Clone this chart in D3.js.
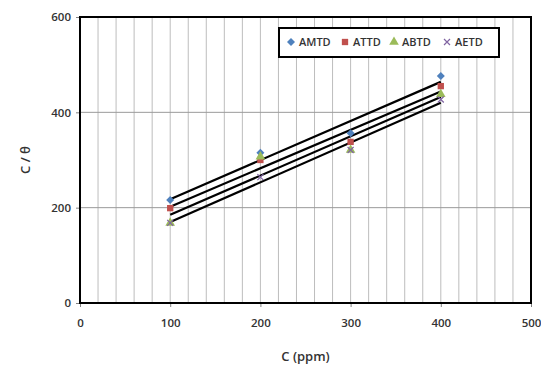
<!DOCTYPE html>
<html>
<head>
<meta charset="utf-8">
<script src="https://cdn.jsdelivr.net/npm/d3@7"></script>
<style>
  body { margin: 0; background: #fff; }
  text { font-family: "Open Sans", "Liberation Sans", sans-serif; font-weight: 600; fill: #333; }
</style>
</head>
<body>
<svg id="chart" width="541" height="372"></svg>
<script>
// concentrations (ppm)
const concentrations = [100, 200, 300, 400];
// C / theta for each inhibitor
const amtd = [216, 315, 356, 476];
const attd = [199, 300, 338, 455];
const abtd = [168, 307, 321, 438];
const aetd = [168, 264, 321, 427];

const seriesNames = ['AMTD', 'ATTD', 'ABTD', 'AETD'];
const seriesColors = ['#4F81BD', '#C0504D', '#9BBB59', '#8064A2'];
const seriesShapes = ['diamond', 'square', 'triangle', 'cross'];
const xTicks = [0, 100, 200, 300, 400, 500];
const yTicks = [0, 200, 400, 600];

const svg = d3.select('#chart');
const plotLeft = 80, plotRight = 531, plotTop = 17, plotBottom = 303;

const x = d3.scaleLinear().domain([0, 500]).range([plotLeft, plotRight]);
const y = d3.scaleLinear().domain([0, 600]).range([plotBottom, plotTop]);

const series = [amtd, attd, abtd, aetd].map((vals, i) => ({
  name: seriesNames[i],
  color: seriesColors[i],
  shape: seriesShapes[i],
  points: vals.map((v, j) => ({ x: concentrations[j], y: v })),
}));

// least squares trend line, like the spreadsheet does
function fit(points) {
  const mx = d3.mean(points, p => p.x);
  const my = d3.mean(points, p => p.y);
  const slope = d3.sum(points, p => (p.x - mx) * (p.y - my)) / d3.sum(points, p => (p.x - mx) ** 2);
  const xs = d3.extent(points, p => p.x);
  return xs.map(v => ({ x: v, y: my + slope * (v - mx) }));
}

// gridlines
svg.append('g')
  .selectAll('line')
  .data(d3.range(20, 500, 20))
  .enter()
  .append('line')
  .attr('x1', d => x(d)).attr('x2', d => x(d))
  .attr('y1', plotTop).attr('y2', plotBottom)
  .attr('stroke', '#bdbdbd').attr('stroke-width', 1);

svg.append('g')
  .selectAll('line')
  .data([200, 400])
  .enter()
  .append('line')
  .attr('x1', plotLeft).attr('x2', plotRight)
  .attr('y1', d => y(d)).attr('y2', d => y(d))
  .attr('stroke', '#9a9a9a').attr('stroke-width', 1);

// axes
const yAxis = svg.append('g')
  .attr('transform', `translate(${plotLeft},0)`)
  .call(d3.axisLeft(y).tickValues(yTicks).tickSize(4).tickPadding(5));
const xAxis = svg.append('g')
  .attr('transform', `translate(0,${plotBottom})`)
  .call(d3.axisBottom(x).tickValues(xTicks).tickSize(4).tickPadding(12));
[xAxis, yAxis].forEach(a => {
  a.select('.domain').remove();
  a.selectAll('line').attr('stroke', '#808080');
  a.selectAll('text').attr('font-size', 11.5).attr('fill', '#333')
    .attr('font-family', '"Open Sans", sans-serif').attr('font-weight', 600);
});

// plot border
svg.append('rect')
  .attr('x', plotLeft).attr('y', plotTop)
  .attr('width', plotRight - plotLeft).attr('height', plotBottom - plotTop)
  .attr('fill', 'none').attr('stroke', '#000').attr('stroke-width', 2);

// trend lines
const line = d3.line().x(d => x(d.x)).y(d => y(d.y));
svg.append('g')
  .selectAll('path')
  .data(series)
  .enter()
  .append('path')
  .attr('d', s => line(fit(s.points)))
  .attr('fill', 'none')
  .attr('stroke', '#000')
  .attr('stroke-width', 2.2);

function marker(sel, shape, color) {
  if (shape === 'cross') {
    sel.append('path')
      .attr('d', 'M-3,-3L3,3M-3,3L3,-3')
      .attr('stroke', color).attr('stroke-width', 1.2).attr('fill', 'none');
    return;
  }
  if (shape === 'diamond') {
    sel.append('path')
      .attr('d', 'M0,-4L4,0L0,4L-4,0Z')
      .attr('fill', color);
    return;
  }
  const type = shape === 'square' ? d3.symbolSquare : d3.symbolTriangle;
  sel.append('path')
    .attr('d', d3.symbol().type(type).size(40)())
    .attr('fill', color);
}

// points
series.forEach(s => {
  svg.append('g')
    .selectAll('g')
    .data(s.points)
    .enter()
    .append('g')
    .attr('transform', d => `translate(${x(d.x)},${y(d.y)})`)
    .each(function () { marker(d3.select(this), s.shape, s.color); });
});

// legend
const legend = svg.append('g');
legend.append('rect')
  .attr('x', 279).attr('y', 28).attr('width', 220).attr('height', 29)
  .attr('fill', '#fff').attr('stroke', '#000').attr('stroke-width', 2);
const legendX = [291, 345, 394, 447];
series.forEach((s, i) => {
  const item = legend.append('g').attr('transform', `translate(${legendX[i]},42)`);
  marker(item, s.shape, s.color);
  item.append('text')
    .attr('x', 8).attr('y', 4)
    .attr('font-size', 11)
    .attr('fill', '#000')
    .text(s.name);
});

// axis titles
svg.append('text')
  .attr('x', (plotLeft + plotRight) / 2).attr('y', 361)
  .attr('text-anchor', 'middle')
  .attr('font-size', 13)
  .text('C (ppm)');
svg.append('text')
  .attr('transform', `translate(30,${(plotTop + plotBottom) / 2}) rotate(-90)`)
  .attr('text-anchor', 'middle')
  .attr('font-size', 13)
  .text('C / θ');
</script>
</body>
</html>
